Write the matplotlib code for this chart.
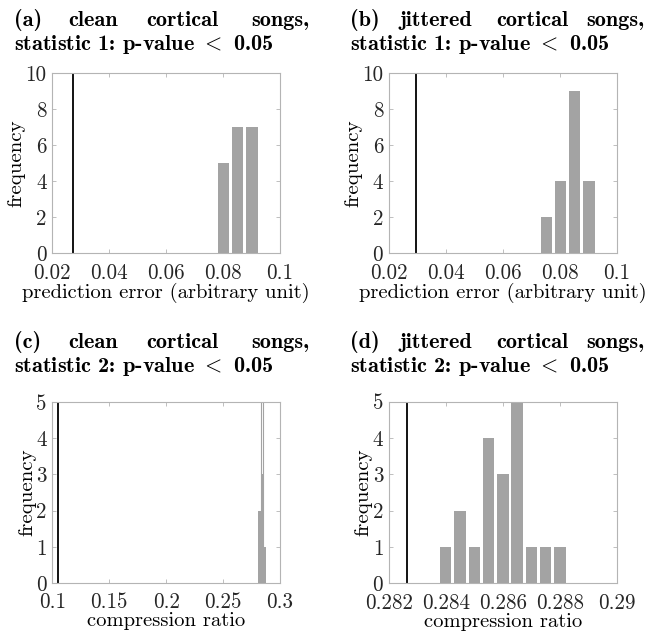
import numpy as np
import matplotlib
matplotlib.use("Agg")
import matplotlib.pyplot as plt

plt.rcParams['font.family'] = 'cmr10'
plt.rcParams['mathtext.fontset'] = 'cm'
plt.rcParams['axes.unicode_minus'] = False

# panel data (bin centres, counts, observed value)
a_centers = [0.0801, 0.0851, 0.0901]
a_counts = [5, 7, 7]
a_obs = 0.0272

b_centers = [0.0752, 0.0802, 0.0852, 0.0902]
b_counts = [2, 4, 9, 4]
b_obs = 0.0295

c_centers = [0.2820, 0.2843, 0.2866]
c_counts = [2, 3, 1]
c_tall_center = 0.2843
c_tall_count = 13
c_obs = 0.1053

d_centers = [0.2840, 0.2845, 0.2850, 0.2855, 0.2860, 0.2865, 0.2870, 0.2875, 0.2880]
d_counts = [1, 2, 1, 4, 3, 5, 1, 1, 1]
d_obs = 0.28265

a_xticks = [0.02, 0.04, 0.06, 0.08, 0.1]
a_xlabels = ['0.02', '0.04', '0.06', '0.08', '0.1']
c_xticks = [0.1, 0.15, 0.2, 0.25, 0.3]
c_xlabels = ['0.1', '0.15', '0.2', '0.25', '0.3']
d_xticks = [0.282, 0.284, 0.286, 0.288, 0.29]
d_xlabels = ['0.282', '0.284', '0.286', '0.288', '0.29']

BAR = '#a3a3a3'
SPINE = '#b4b4b4'
W, H = 653, 634

fig = plt.figure(figsize=(W / 100, H / 100), dpi=100)


def px_axes(left, top, right, bottom):
    return fig.add_axes([left / W, 1 - bottom / H, (right - left) / W, (bottom - top) / H])


def style(ax, xlim, ylim, xticks, xlabels, yticks, xlabel):
    ax.set_xlim(*xlim)
    ax.set_ylim(*ylim)
    ax.set_xticks(xticks)
    ax.set_xticklabels(xlabels)
    ax.set_yticks(yticks)
    ax.set_yticklabels([str(t) for t in yticks])
    for s in ax.spines.values():
        s.set_color(SPINE)
        s.set_linewidth(0.8)
    ax.tick_params(direction='in', length=3, width=0.6, color=SPINE, top=True, right=True,
                   labelsize=15.2, labelcolor='#262626')
    ax.tick_params(axis='x', pad=7)
    ax.tick_params(axis='y', pad=4)
    ax.set_xlabel(xlabel, fontsize=14.8, labelpad=0)
    ax.set_ylabel('frequency', fontsize=15, labelpad=0)


def title(words, xs, x_end, y1, y2, line2):
    fs = 16
    for i, (wd, x) in enumerate(zip(words, xs)):
        if i == len(words) - 1:
            fig.text(x_end / W, 1 - y1 / H, wd, fontfamily='cmb10', fontsize=fs, ha='right', va='center')
        else:
            fig.text(x / W, 1 - y1 / H, wd, fontfamily='cmb10', fontsize=fs, ha='left', va='center')
    fig.text(xs[0] / W, 1 - y2 / H, line2, fontfamily='cmb10', fontsize=fs, ha='left', va='center')


# (a)
ax = px_axes(52.3, 73.3, 280, 253.3)
ax.bar(a_centers, a_counts, width=0.0041, color=BAR, zorder=2)
ax.axvline(a_obs, color='black', lw=1.3)
style(ax, (0.02, 0.1), (0, 10), a_xticks, a_xlabels, [0, 2, 4, 6, 8, 10],
      'prediction error (arbitrary unit)')
title(['(a)', 'clean', 'cortical', 'songs,'], [14, 68, 146, 227], 309, 20, 45,
      r'statistic 1: p-value $<$ 0.05')

# (b)
ax = px_axes(388.7, 73.3, 617, 253.3)
ax.bar(b_centers, b_counts, width=0.0040, color=BAR, zorder=2)
ax.axvline(b_obs, color='black', lw=1.3)
style(ax, (0.02, 0.1), (0, 10), a_xticks, a_xlabels, [0, 2, 4, 6, 8, 10],
      'prediction error (arbitrary unit)')
title(['(b)', 'jittered', 'cortical', 'songs,'], [350, 400, 496, 579], 644, 20, 45,
      r'statistic 1: p-value $<$ 0.05')

# (c)
ax = px_axes(52.3, 402, 280, 583)
ax.bar(c_centers, c_counts, width=0.0023, color=BAR, zorder=2)
ax.bar([c_tall_center], [c_tall_count], width=0.0022, facecolor='none', edgecolor=BAR,
       lw=0.8, zorder=2)
ax.axvline(c_obs, color='black', lw=1.3)
style(ax, (0.1, 0.3), (0, 5), c_xticks, c_xlabels, [0, 1, 2, 3, 4, 5], 'compression ratio')
title(['(c)', 'clean', 'cortical', 'songs,'], [14, 68, 146, 227], 309, 342, 366,
      r'statistic 2: p-value $<$ 0.05')

# (d)
ax = px_axes(388.7, 401.7, 617, 583.3)
ax.bar(d_centers, d_counts, width=0.0004, color=BAR, zorder=2)
ax.axvline(d_obs, color='black', lw=1.3)
style(ax, (0.282, 0.29), (0, 5), d_xticks, d_xlabels, [0, 1, 2, 3, 4, 5], 'compression ratio')
title(['(d)', 'jittered', 'cortical', 'songs,'], [350, 400, 496, 579], 644, 342, 366,
      r'statistic 2: p-value $<$ 0.05')

fig.savefig('out.png', dpi=100)
